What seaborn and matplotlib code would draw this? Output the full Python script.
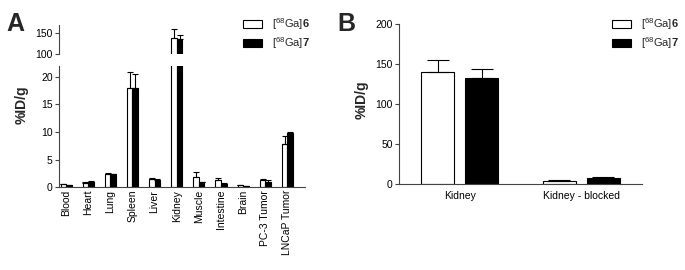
import numpy as np
import pandas as pd
import seaborn as sns
import matplotlib.pyplot as plt
from matplotlib.patches import Patch

# biodistribucion (panel A)
organs = ['Blood', 'Heart', 'Lung', 'Spleen', 'Liver', 'Kidney', 'Muscle',
          'Intestine', 'Brain', 'PC-3 Tumor', 'LNCaP Tumor']
mean6 = [0.5, 0.8, 2.4, 18.0, 1.5, 139, 1.9, 1.2, 0.4, 1.3, 7.8]
sd6 = [0.1, 0.1, 0.2, 2.8, 0.15, 20, 0.8, 0.4, 0.05, 0.1, 1.4]
mean7 = [0.3, 1.0, 2.3, 18.0, 1.3, 135, 0.9, 0.6, 0.15, 1.0, 9.8]
sd7 = [0.05, 0.05, 0.1, 2.6, 0.1, 10, 0.05, 0.1, 0.05, 0.3, 0.2]

# bloqueo renal (panel B)
groups = ['Kidney', 'Kidney - blocked']
meanB6 = [140, 4]
sdB6 = [15, 0.8]
meanB7 = [133, 8]
sdB7 = [11, 0.5]

tracers = ['6', '7']
labels = [r'[$^{68}$Ga]$\mathbf{6}$', r'[$^{68}$Ga]$\mathbf{7}$']

sns.set_style('ticks')
plt.rcParams['font.family'] = ['Liberation Sans', 'DejaVu Sans']
plt.rcParams['mathtext.fontset'] = 'custom'
plt.rcParams['mathtext.rm'] = 'Liberation Sans'
plt.rcParams['mathtext.bf'] = 'Liberation Sans:bold'
plt.rcParams['axes.edgecolor'] = '#444444'
plt.rcParams['xtick.color'] = '#444444'
plt.rcParams['ytick.color'] = '#444444'
plt.rcParams['xtick.labelcolor'] = 'black'
plt.rcParams['ytick.labelcolor'] = 'black'

df_a = pd.DataFrame({'organ': organs * 2,
                     'tracer': ['6'] * len(organs) + ['7'] * len(organs),
                     'uptake': mean6 + mean7,
                     'sd': sd6 + sd7})
df_b = pd.DataFrame({'organ': groups * 2,
                     'tracer': ['6'] * len(groups) + ['7'] * len(groups),
                     'uptake': meanB6 + meanB7,
                     'sd': sdB6 + sdB7})


def draw_bars(ax, df, order, width, gap, capsize):
    sns.barplot(data=df, x='organ', y='uptake', hue='tracer', order=order,
                hue_order=tracers, palette={'6': 'white', '7': 'black'},
                edgecolor='black', linewidth=0.8, width=width, gap=gap,
                errorbar=None, legend=False, ax=ax)
    for cont, level in zip(ax.containers, tracers):
        sub = df[df['tracer'] == level].set_index('organ').loc[order]
        xs = [p.get_x() + p.get_width() / 2 for p in cont.patches]
        ax.errorbar(xs, sub['uptake'], yerr=[np.zeros(len(sub)), sub['sd']],
                    fmt='none', ecolor='black', elinewidth=0.8,
                    capsize=capsize, capthick=0.8)
    ax.set_xlabel('')
    ax.set_ylabel('')
    sns.despine(ax=ax)
    ax.tick_params(axis='y', length=3, width=0.8, labelsize=7.5, pad=1.5)
    ax.tick_params(axis='x', length=0, labelsize=7.5)


def add_legend(ax, x, y):
    ax.legend(handles=[Patch(facecolor='white', edgecolor='black', linewidth=0.8),
                       Patch(facecolor='black', edgecolor='black', linewidth=0.8)],
              labels=labels, loc='upper left', bbox_to_anchor=(x, y),
              bbox_transform=fig.transFigure, frameon=False, fontsize=8,
              handlelength=1.7, handleheight=0.75, handletextpad=0.9,
              labelspacing=0.3, borderpad=0, borderaxespad=0)


fig = plt.figure(figsize=(6.85, 2.7), dpi=100)

# panel A, eje partido
ax_top = fig.add_axes([0.0861, 0.800, 0.359, 0.109])
ax_low = fig.add_axes([0.0861, 0.307, 0.359, 0.449])
for ax in (ax_top, ax_low):
    draw_bars(ax, df_a, organs, 0.5, 0, 2.5)
    ax.set_xlim(-0.32, 10.79)
ax_top.set_ylim(100, 170)
ax_top.set_yticks([100, 150])
ax_top.spines['bottom'].set_visible(False)
ax_top.set_xticks([])
ax_low.set_ylim(0, 22)
ax_low.set_yticks([0, 5, 10, 15, 20])
ax_low.tick_params(axis='x', rotation=90, pad=2)
add_legend(ax_top, 0.355, 0.94)

# panel B
ax_b = fig.add_axes([0.5825, 0.3185, 0.3547, 0.5925])
draw_bars(ax_b, df_b, groups, 0.72, 0.25, 8)
ax_b.set_xlim(-0.5, 1.5)
ax_b.set_ylim(0, 200)
ax_b.set_yticks([0, 50, 100, 150, 200])
ax_b.tick_params(axis='x', pad=5)
add_legend(ax_b, 0.893, 0.94)

fig.text(0.032, 0.611, '%ID/g', rotation=90, ha='center', va='center',
         fontsize=10, fontweight='bold')
fig.text(0.528, 0.63, '%ID/g', rotation=90, ha='center', va='center',
         fontsize=10, fontweight='bold')
fig.text(0.01, 0.885, 'A', fontsize=18, fontweight='bold')
fig.text(0.492, 0.885, 'B', fontsize=18, fontweight='bold')

fig.savefig('out.png', dpi=100)
